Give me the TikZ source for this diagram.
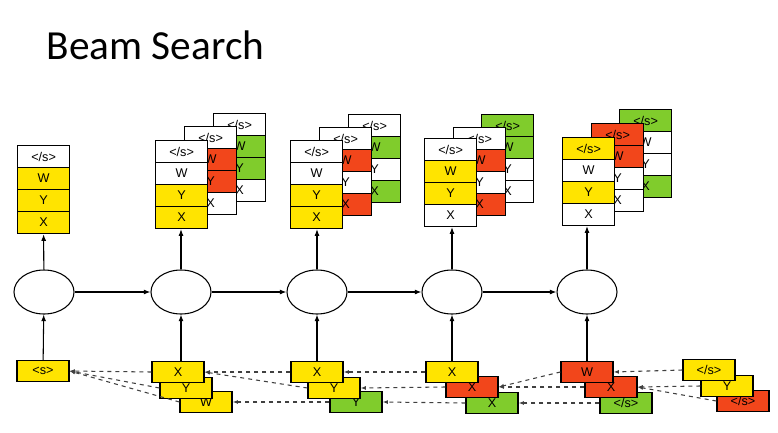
\documentclass[tikz,border=0pt]{standalone}
\usepackage{fontspec}
\setmainfont{Liberation Sans}
\newfontfamily\titlefont{Carlito}
\usetikzlibrary{shapes.geometric,arrows.meta}
\definecolor{by}{HTML}{FFE400}
\definecolor{br}{HTML}{F2461B}
\definecolor{bg}{HTML}{80CC2C}
\definecolor{bw}{HTML}{FFFFFF}
\tikzset{
  cell/.style={draw,line width=0.9pt,minimum width=39pt,minimum height=16.5pt,
    inner sep=0pt,font=\fontsize{9.5}{9.5}\selectfont,anchor=north west},
  card/.style={draw,line width=0.9pt,minimum width=39pt,minimum height=15.5pt,
    inner sep=0pt,font=\fontsize{9.5}{9.5}\selectfont,fill=#1},
  rnn/.style={draw,ellipse,line width=0.8pt,minimum width=45pt,minimum height=33pt},
  up/.style={-{Latex[length=5pt]},line width=0.8pt},
  back/.style={-{Latex[length=4pt]},dashed,line width=0.8pt,black!75},
}
% one stack of four cells: name, x, y, colours top to bottom
\newcommand\beamstack[7]{%
  \node[cell,fill=#4] (#1a) at (#2,#3) {</s>};
  \node[cell,fill=#5] (#1b) at (#2,#3+22) {W};
  \node[cell,fill=#6] (#1c) at (#2,#3+44) {Y};
  \node[cell,fill=#7] (#1d) at (#2,#3+66) {X};}
\begin{document}
\begin{tikzpicture}[x=0.75pt,y=-0.75pt]
\useasboundingbox (0,0) rectangle (778,432);

\node[anchor=base west,font=\titlefont\fontsize{31}{31}\selectfont] (title) at (42,59) {Beam Search};

% output stacks
\beamstack{sa}{17}{145}{bw}{by}{by}{by}

\beamstack{sbc}{213}{113}{bw}{bg}{bg}{bw}
\beamstack{sbb}{184}{126}{bw}{br}{br}{bw}
\beamstack{sb}{155}{140}{bw}{bw}{by}{by}

\beamstack{scc}{348}{114}{bw}{bg}{bw}{bg}
\beamstack{scb}{319}{127}{bw}{br}{bw}{br}
\beamstack{sc}{290}{140}{bw}{bw}{by}{by}

\beamstack{sdc}{481}{114}{bg}{bg}{bw}{bw}
\beamstack{sdb}{453}{127}{bw}{br}{bw}{br}
\beamstack{sd}{424}{138}{bw}{by}{by}{bw}

\beamstack{sec}{619}{109}{bg}{bw}{bw}{bg}
\beamstack{seb}{591}{123}{br}{br}{bw}{bw}
\beamstack{se}{562}{137}{by}{bw}{by}{bw}

% recurrent steps
\node[rnn] (ra) at (44,292) {};
\node[rnn] (rb) at (181,292) {};
\node[rnn] (rc) at (317,292) {};
\node[rnn] (rd) at (452,292) {};
\node[rnn] (re) at (587,292) {};

\draw[up] (ra) -- (rb);
\draw[up] (rb) -- (rc);
\draw[up] (rc) -- (rd);
\draw[up] (rd) -- (re);

\draw[up] (ra) -- (sad.south);
\draw[up] (rb) -- (sbd.south -| rb);
\draw[up] (rc) -- (scd.south -| rc);
\draw[up] (rd) -- (sdd.south -| rd);
\draw[up] (re) -- (sed.south -| re);

% chosen words, back to front
\node[card=by] (ia) at (43,371) {<s>};

\node[card=by] (ib3) at (206,402) {W};
\node[card=by] (ib2) at (186,388) {Y};
\node[card=by] (ib1) at (178,372) {X};

\node[card=bg] (ic3) at (356,402) {Y};
\node[card=by] (ic2) at (334,388) {Y};
\node[card=by] (ic1) at (317,372) {X};

\node[card=bg] (id3) at (492,403) {X};
\node[card=br] (id2) at (472,387) {X};
\node[card=by] (id1) at (452,372) {X};

\node[card=bg] (ie3) at (626,403) {</s>};
\node[card=br] (ie2) at (611,387) {X};
\node[card=br] (ie1) at (587,372) {W};

\node[card=br] (if3) at (743,401) {</s>};
\node[card=by] (if2) at (727,386) {Y};
\node[card=by] (if1) at (709,370) {</s>};

\draw[up] (ia) -- (ra);
\draw[up] (ib1.north -| rb) -- (rb);
\draw[up] (ic1) -- (rc);
\draw[up] (id1) -- (rd);
\draw[up] (ie1) -- (re);

% back pointers
\draw[back] (ib1.west) -- (ia.east);
\draw[back] (ib2.west) -- (ia.east);
\draw[back] (ib3.west) -- (ia.east);
\draw[back] (ic1.west) -- (ib1.east);
\draw[back] (ic2.west) -- (ib1.east);
\draw[back] (ic3.west) -- (ib3.east);
\draw[back] (id1.west) -- (ic1.east);
\draw[back] (id2.west) -- (ic2.east);
\draw[back] (id3.west) -- (ic3.east);
\draw[back] (ie1.west) -- (id2.east);
\draw[back] (ie2.west) -- (id2.east);
\draw[back] (ie3.west) -- (id3.east);
\draw[back] (if1.west) -- (ie1.east);
\draw[back] (if2.west) -- (ie2.east);
\draw[back] (if3.west) -- (ie2.east);
\end{tikzpicture}
\end{document}
